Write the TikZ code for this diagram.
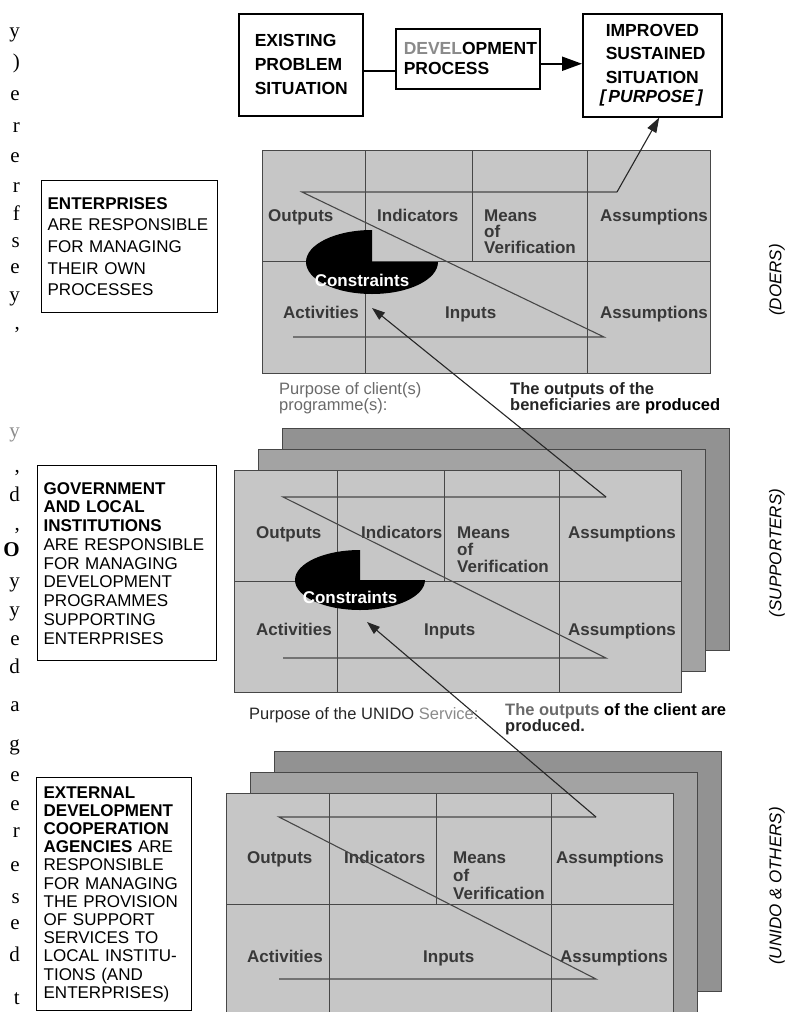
\documentclass[tikz,border=0pt]{standalone}
\usepackage{fontspec}
\setmainfont{Liberation Sans}
\newfontfamily\marginserif{Liberation Serif}
\usetikzlibrary{arrows.meta,calc}
\definecolor{frontgray}{HTML}{C6C6C6}
\definecolor{midgray}{HTML}{A3A3A3}
\definecolor{backgray}{HTML}{929292}
\definecolor{gridcol}{HTML}{474747}
\definecolor{celltext}{HTML}{383838}
\definecolor{fadetext}{HTML}{6A6A6A}
\definecolor{develgray}{HTML}{8A8A8A}
\newcommand{\lfgrid}[1]{%
  \draw[gridl] ($(#1.north west)+(103,0)$) -- ($(#1.south west)+(103,0)$);
  \draw[gridl] ($(#1.north west)+(210,0)$) -- ($(#1.north west)+(210,111)$);
  \draw[gridl] ($(#1.north west)+(325,0)$) -- ($(#1.south west)+(325,0)$);
  \draw[gridl] ($(#1.north west)+(0,111)$) -- ($(#1.north east)+(0,111)$);
}
\newcommand{\lfzig}[7]{%
  \coordinate (#1ur) at ($(#1.north west)+(#5,#2)$);
  \coordinate (#1ul) at ($(#1.north west)+(#4,#2)$);
  \coordinate (#1lr) at ($(#1.north west)+(#7,#3)$);
  \coordinate (#1ll) at ($(#1.north west)+(#6,#3)$);
  \draw[zig] (#1ur) -- (#1ul) -- (#1lr) -- (#1ll);
}
\begin{document}
\begin{tikzpicture}[x=1pt,y=-1pt,
  topbox/.style={draw=black, line width=1.5pt, inner ysep=0pt, align=left,
     font=\bfseries\fontsize{17.5}{24}\selectfont, anchor=north west},
  sidebox/.style={draw=black, line width=1.3pt, inner ysep=0pt, align=left,
     font=\fontsize{17}{18.75}\selectfont, anchor=north west},
  sheet/.style={draw=gridcol, line width=1pt, inner sep=0pt, minimum width=447pt,
     minimum height=222pt, anchor=north west},
  frontsheet/.style={sheet, fill=frontgray},
  midsheet/.style={sheet, fill=midgray},
  backsheet/.style={sheet, fill=backgray},
  gridl/.style={draw=gridcol, line width=1pt},
  cell/.style={font=\bfseries\fontsize{17}{17}\selectfont, text=celltext, inner sep=0pt, anchor=base west},
  constr/.style={font=\bfseries\fontsize{17}{17}\selectfont, text=white, inner sep=0pt, anchor=center},
  zig/.style={draw=gridcol, line width=1.1pt},
  flow/.style={draw=black!85, line width=1.1pt, -{Triangle[length=13pt,width=9pt]}},
  capt/.style={font=\fontsize{16.5}{16.5}\selectfont, inner sep=0pt, anchor=base west},
  boldcapt/.style={font=\bfseries\fontsize{16.5}{16.5}\selectfont, inner sep=0pt, anchor=base west, text=black!85},
  side/.style={font=\itshape\fontsize{17}{17}\selectfont, rotate=90, inner sep=0pt},
  marg/.style={font=\marginserif\fontsize{21}{21}\selectfont, anchor=base east, inner sep=0pt},
]
\useasboundingbox (0,0) rectangle (804,1012);

% ---------- top flow ----------
\node[topbox, minimum width=124pt, minimum height=102pt, text width=92pt, inner xsep=16pt] (B1) at (238,13)
  {EXISTING\\PROBLEM\\SITUATION};
\node[topbox, minimum width=144pt, minimum height=60pt, text width=128pt, inner xsep=8pt,
  font=\bfseries\fontsize{17.5}{20}\selectfont] (B2) at (395,28)
  {\textcolor{develgray}{DEVEL}OPMENT\\PROCESS};
\node[topbox, minimum width=139pt, minimum height=103pt, text width=93pt, inner xsep=23pt,
  font=\bfseries\fontsize{17.5}{23.5}\selectfont] (B3) at (582,13)
  {\mbox{IMPROVED}\\\mbox{SUSTAINED}\\\mbox{SITUATION}\\[-4pt]\mbox{\hspace*{-6pt}\itshape [\,PURPOSE\,]}};
\draw[line width=2pt] ([yshift=-6pt]B1.east) -- ([yshift=-6pt]B1.east -| B2.west);
\draw[line width=2pt, -{Triangle[length=20pt,width=14pt]}] ([yshift=-5pt]B2.east) -- ([yshift=-5pt]B2.east -| B3.west);

% ---------- left boxes ----------
\node[sidebox, minimum width=176pt, minimum height=132pt, text width=164pt, inner xsep=6pt,
  font=\fontsize{17}{21.7}\selectfont] (L1) at (41,180)
  {\textbf{ENTERPRISES}\\ARE RESPONSIBLE\\FOR MANAGING\\THEIR OWN\\PROCESSES};
\node[sidebox, minimum width=179pt, minimum height=195pt, text width=167pt, inner xsep=6pt] (L2) at (37,465)
  {\textbf{GOVERNMENT}\\\textbf{AND LOCAL}\\\textbf{INSTITUTIONS}\\ARE RESPONSIBLE\\FOR MANAGING\\DEVELOPMENT\\PROGRAMMES\\SUPPORTING\\ENTERPRISES};
\node[sidebox, minimum width=155pt, minimum height=233pt, text width=141pt, inner xsep=7pt,
  font=\fontsize{17}{18.2}\selectfont] (L3) at (36,777)
  {\textbf{EXTERNAL}\\\textbf{DEVELOPMENT}\\\textbf{COOPERATION}\\\textbf{AGENCIES} ARE\\RESPONSIBLE\\FOR MANAGING\\THE PROVISION\\OF SUPPORT\\SERVICES TO\\LOCAL INSTITU-\\TIONS (AND\\ENTERPRISES)};

% ---------- stack 3 (UNIDO & others) ----------
\node[backsheet, minimum height=240pt] (S3c) at (274,751) {};
\node[midsheet, minimum height=240pt] (S3b) at (250,772) {};
\node[frontsheet, minimum height=240pt] (S3) at (226,793) {};
\lfgrid{S3}
\node[cell] (s3o) at ($(S3.north west)+(21,70)$) {Outputs};
\node[cell] (s3i) at ($(S3.north west)+(118,70)$) {Indicators};
\node[cell] (s3m) at ($(S3.north west)+(227,70)$) {Means};
\node[cell] (s3f) at ($(S3.north west)+(227,88)$) {of};
\node[cell] (s3v) at ($(S3.north west)+(227,106)$) {Verification};
\node[cell] (s3a) at ($(S3.north west)+(330,70)$) {Assumptions};
\node[cell] (s3act) at ($(S3.north west)+(21,169)$) {Activities};
\node[cell] (s3in) at ($(S3.north west)+(197,169)$) {Inputs};
\node[cell] (s3a2) at ($(S3.north west)+(334,169)$) {Assumptions};
\lfzig{S3}{24}{186}{53}{370}{53}{370}

% ---------- stack 2 (supporters) ----------
\node[backsheet] (S2c) at (282,428) {};
\node[midsheet] (S2b) at (258,449) {};
\node[frontsheet] (S2) at (234,470) {};
\lfgrid{S2}
\node[cell] (s2o) at ($(S2.north west)+(22,68)$) {Outputs};
\node[cell] (s2i) at ($(S2.north west)+(127,68)$) {Indicators};
\node[cell] (s2m) at ($(S2.north west)+(223,68)$) {Means};
\node[cell] (s2f) at ($(S2.north west)+(223,85)$) {of};
\node[cell] (s2v) at ($(S2.north west)+(223,102)$) {Verification};
\node[cell] (s2a) at ($(S2.north west)+(334,68)$) {Assumptions};
\node[cell] (s2act) at ($(S2.north west)+(22,165)$) {Activities};
\node[cell] (s2in) at ($(S2.north west)+(190,165)$) {Inputs};
\node[cell] (s2a2) at ($(S2.north west)+(334,165)$) {Assumptions};
\coordinate (S2ec) at ($(S2.north west)+(126,110)$);
\fill[black] (S2ec) -- ++(65,0) arc[start angle=0, end angle=270, x radius=65, y radius=30] -- cycle;
\node[constr] (s2c) at ($(S2.north west)+(116,127)$) {Constraints};
\lfzig{S2}{27}{188}{49}{372}{49}{372}
\coordinate (S2tip) at ($(S2.north west)+(133,152)$);

% ---------- matrix 1 (doers) ----------
\node[frontsheet, minimum width=448pt, minimum height=223pt] (M1) at (262,150) {};
\lfgrid{M1}
\node[cell] (m1o) at ($(M1.north west)+(6,71)$) {Outputs};
\node[cell] (m1i) at ($(M1.north west)+(115,71)$) {Indicators};
\node[cell] (m1m) at ($(M1.north west)+(222,71)$) {Means};
\node[cell] (m1f) at ($(M1.north west)+(222,87)$) {of};
\node[cell] (m1v) at ($(M1.north west)+(222,103)$) {Verification};
\node[cell] (m1a) at ($(M1.north west)+(338,71)$) {Assumptions};
\node[cell] (m1act) at ($(M1.north west)+(21,168)$) {Activities};
\node[cell] (m1in) at ($(M1.north west)+(183,168)$) {Inputs};
\node[cell] (m1a2) at ($(M1.north west)+(338,168)$) {Assumptions};
\coordinate (M1ec) at ($(M1.north west)+(110,112)$);
\fill[black] (M1ec) -- ++(66,0) arc[start angle=0, end angle=270, x radius=66, y radius=32] -- cycle;
\node[constr] (m1c) at ($(M1.north west)+(100,130)$) {Constraints};
\lfzig{M1}{42}{187}{40}{355}{31}{342}
\coordinate (M1tip) at ($(M1.north west)+(110,158)$);

% ---------- connectors between levels ----------
\draw[flow, -{Triangle[length=15pt,width=10pt]}] (M1ur) -- ([xshift=7pt]B3.south);
\draw[flow] (S2ur) -- (M1tip);
\draw[flow] (S3ur) -- (S2tip);

% ---------- captions ----------
\node[capt, text=fadetext] (p1a) at (279,394) {Purpose of client(s)};
\node[capt, text=fadetext] (p1b) at (279,410) {programme(s):};
\node[boldcapt] (o1a) at (510,394) {The outputs of the};
\node[boldcapt] (o1b) at (510,410) {beneficiaries are \textcolor{black}{produced}};
\node[capt, text=black!85] (p2a) at (249,719) {Purpose of the UNIDO \textcolor{develgray}{Service:}};
\node[boldcapt] (o2a) at (505,715) {\textcolor{fadetext}{The outputs} \textcolor{black}{of the client are}};
\node[boldcapt] (o2b) at (505,731) {produced.};

% ---------- side labels ----------
\node[side] (doers) at (777,280) {(DOERS)};
\node[side] (supp) at (777,553) {(SUPPORTERS)};
\node[side] (unido) at (777,886) {(UNIDO \& OTHERS)};

% ---------- margin fragments of the page text ----------
\foreach \yy/\ch [count=\i] in {37/y,68/{)},100/e,132/r,162/e,192/r,220/f,247/s,273/e,301/y,329/{,},
  472/{,},501/d,530/{,},556/\textbf{O},587/y,616/y,645/e,673/d,711/a,750/g,781/e,810/e,837/r,871/e,903/s,929/e,961/d,1004/t}
  \node[marg] (mg\i) at (20,\yy) {\ch};
\node[marg, text=black!45] (mgy) at (20,437) {y};
\end{tikzpicture}
\end{document}
